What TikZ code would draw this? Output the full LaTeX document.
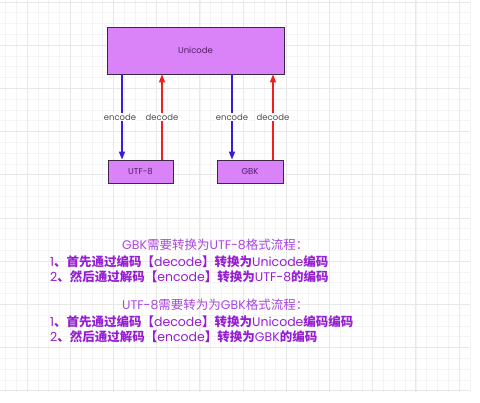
\documentclass[tikz,border=0pt]{standalone}
\usepackage{fontspec}
\usetikzlibrary{arrows.meta}
\newfontfamily\cjk{Noto Sans CJK SC}
\newfontfamily\pop{Poppins}
\definecolor{boxfill}{RGB}{218,130,247}
\definecolor{boxline}{RGB}{60,40,70}
\definecolor{boxtext}{RGB}{80,30,100}
\definecolor{encblue}{RGB}{55,30,215}
\definecolor{decred}{RGB}{240,30,30}
\definecolor{note}{RGB}{150,30,210}
\definecolor{notelight}{RGB}{170,70,225}
\definecolor{gridminor}{RGB}{244,244,244}
\definecolor{gridmajor}{RGB}{232,232,232}
\tikzset{
  cbox/.style={draw=boxline, line width=0.8pt, fill=boxfill, text=boxtext, font=\pop\fontsize{8.5}{10}\selectfont, inner sep=0pt},
  encarrow/.style={draw=encblue, line width=1.3pt, -{Triangle[width=6pt,length=8pt]}},
  decarrow/.style={draw=decred, line width=1.3pt, -{Triangle[width=6pt,length=8pt]}},
  arrlabel/.style={fill=white, text=black!70, font=\pop\fontsize{8.5}{10}\selectfont, inner sep=1pt},
  noteline/.style={anchor=west, text=note, font=\fontsize{12.5}{14}\selectfont, inner sep=0pt},
  notehead/.style={anchor=west, text=notelight, font=\fontsize{12.5}{14}\selectfont, inner sep=0pt}
}
\begin{document}
\begin{tikzpicture}[x=1pt,y=-1pt]
\useasboundingbox (0,0) rectangle (480,403);
\fill[white] (0,0) rectangle (480,403);
% grid
\foreach \i in {0,...,43} {
  \draw[gridminor, line width=0.6pt] ({5.4+10.8*\i},0) -- ({5.4+10.8*\i},392);
}
\foreach \j in {0,...,36} {
  \draw[gridminor, line width=0.6pt] (0,{2+10.8*\j}) -- (470,{2+10.8*\j});
}
\foreach \i in {0,...,10} {
  \draw[gridmajor, line width=0.7pt] ({27+43.2*\i},0) -- ({27+43.2*\i},392);
}
\foreach \j in {0,...,9} {
  \draw[gridmajor, line width=0.7pt] (0,{2+43.2*\j}) -- (470,{2+43.2*\j});
}
% boxes
\node[cbox, minimum width=177pt, minimum height=47pt] (uni) at (195.5,50.5) {Unicode};
\node[cbox, minimum width=65pt, minimum height=23pt] (utf) at (140.5,171.5) {UTF-8};
\node[cbox, minimum width=66pt, minimum height=23pt] (gbk) at (250,171.5) {GBK};
\coordinate (a1) at (122,0);
\coordinate (a2) at (162,0);
\coordinate (a3) at (232,0);
\coordinate (a4) at (273,0);
\draw[encarrow] (uni.south -| a1) -- node[arrlabel, xshift=-2pt] {encode} (utf.north -| a1);
\draw[decarrow] (utf.north -| a2) -- node[arrlabel] {decode} (uni.south -| a2);
\draw[encarrow] (uni.south -| a3) -- node[arrlabel] {encode} (gbk.north -| a3);
\draw[decarrow] (gbk.north -| a4) -- node[arrlabel] {decode} (uni.south -| a4);
% notes
\node[notehead] (h1) at (122,245) {{\pop GBK}{\cjk 需要转换为}{\pop UTF-8}{\cjk 格式流程：}};
\node[noteline] (l1) at (50,262) {{\pop 1}{\cjk\bfseries 、首先通过编码【}{\pop decode}{\cjk\bfseries 】转换为}{\pop Unicode}{\cjk\bfseries 编码}};
\node[noteline] (l2) at (50,277) {{\pop 2}{\cjk\bfseries 、然后通过解码【}{\pop encode}{\cjk\bfseries 】转换为}{\pop UTF-8}{\cjk\bfseries 的编码}};
\node[notehead] (h2) at (122,305) {{\pop UTF-8}{\cjk 需要转为为}{\pop GBK}{\cjk 格式流程：}};
\node[noteline] (l3) at (50,322) {{\pop 1}{\cjk\bfseries 、首先通过编码【}{\pop decode}{\cjk\bfseries 】转换为}{\pop Unicode}{\cjk\bfseries 编码编码}};
\node[noteline] (l4) at (50,337) {{\pop 2}{\cjk\bfseries 、然后通过解码【}{\pop encode}{\cjk\bfseries 】转换为}{\pop GBK}{\cjk\bfseries 的编码}};
\end{tikzpicture}
\end{document}
